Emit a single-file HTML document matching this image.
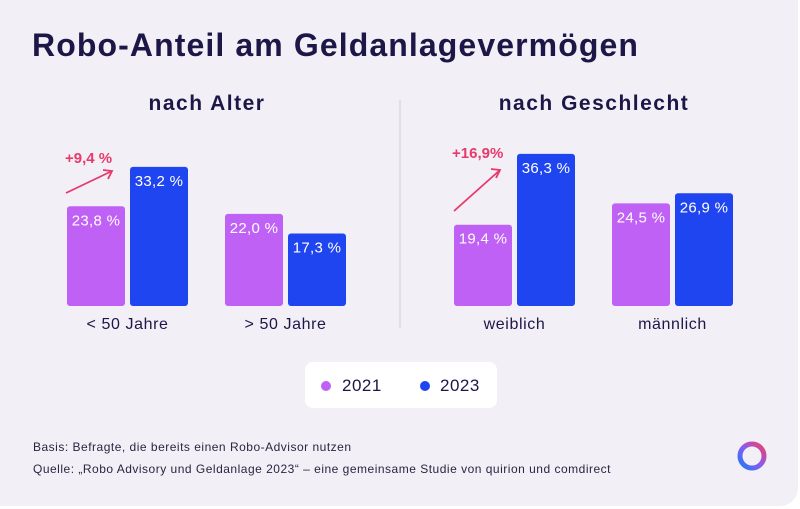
<!DOCTYPE html>
<html><head><meta charset="utf-8"><style>
body{margin:0;background:#fff;font-family:"Liberation Sans",sans-serif}
#card{position:absolute;left:0;top:0;width:798px;height:506px;background:#f2f0f6;border-radius:0 0 18px 0;overflow:hidden}
.t{position:absolute;white-space:nowrap}
</style></head><body>
<div id="card">
<div class="t" style="left:32px;top:27px;font-size:32px;letter-spacing:1.1px;font-weight:bold;color:#1c1747">Robo-Anteil am Geldanlagevermögen</div>
<svg id="c" width="800" height="509" style="position:absolute;left:0;top:0"></svg>
<div style="position:absolute;left:305px;top:362px;width:192px;height:46px;background:#fff;border-radius:8px">
<span style="position:absolute;left:16px;top:19px;width:10px;height:10px;border-radius:50%;background:#c061f5"></span>
<span class="t" style="left:37px;top:14px;font-size:17px;letter-spacing:0.5px;color:#1c1747">2021</span>
<span style="position:absolute;left:115px;top:19px;width:10px;height:10px;border-radius:50%;background:#1f45f0"></span>
<span class="t" style="left:135px;top:14px;font-size:17px;letter-spacing:0.5px;color:#1c1747">2023</span>
</div>
<div class="t" style="left:33px;top:440px;font-size:12px;letter-spacing:0.5px;color:#2a2540">Basis: Befragte, die bereits einen Robo-Advisor nutzen</div>
<div class="t" style="left:33px;top:462px;font-size:12px;letter-spacing:0.5px;color:#2a2540">Quelle: „Robo Advisory und Geldanlage 2023“ – eine gemeinsame Studie von quirion und comdirect</div>
<svg width="40" height="40" style="position:absolute;left:736px;top:438px">
<defs><linearGradient id="lg" x1="0" y1="1" x2="1" y2="0"><stop offset="0" stop-color="#1f7bf0"/><stop offset=".5" stop-color="#8a5cf0"/><stop offset="1" stop-color="#f0406a"/></linearGradient></defs>
<circle cx="16" cy="18" r="12" fill="none" stroke="url(#lg)" stroke-width="5"/></svg>
</div>
<script>
const categories=["< 50 Jahre","> 50 Jahre","weiblich","männlich"];
const v2021=[23.8,22.0,19.4,24.5];
const v2023=[33.2,17.3,36.3,26.9];
const labels2021=["23,8 %","22,0 %","19,4 %","24,5 %"];
const labels2023=["33,2 %","17,3 %","36,3 %","26,9 %"];
const sections=["nach Alter","nach Geschlecht"];
const deltas=["+9,4 %","+16,9%"];
const svg=document.getElementById('c');const NS="http://www.w3.org/2000/svg";
const base=306,k=4.19;const y=v=>base-v*k;
const gx=[67,225,454,612];const bw=58,gap=5;
function mk(t,a){const e=document.createElementNS(NS,t);for(const q in a)e.setAttribute(q,a[q]);svg.appendChild(e);return e;}
categories.forEach((c,i)=>{
 const x1=gx[i],x2=gx[i]+bw+gap;
 let r=mk('rect',{x:x1,y:y(v2021[i]),width:bw,height:v2021[i]*k,rx:3,fill:'#c061f5'});
 
 
 r=mk('rect',{x:x2,y:y(v2023[i]),width:bw,height:v2023[i]*k,rx:3,fill:'#1f45f0'});
 
 
 let t=mk('text',{x:x1+bw/2,y:y(v2021[i])+19,'text-anchor':'middle','font-size':15,'letter-spacing':0.3,fill:'#fff','font-family':'Liberation Sans'});t.textContent=labels2021[i];
 
 
 t=mk('text',{x:x2+bw/2,y:y(v2023[i])+19,'text-anchor':'middle','font-size':15,'letter-spacing':0.3,fill:'#fff','font-family':'Liberation Sans'});t.textContent=labels2023[i];
 
 
 t=mk('text',{x:x1+bw+gap/2,y:329,'text-anchor':'middle','font-size':16,'letter-spacing':0.6,fill:'#1c1747','font-family':'Liberation Sans'});t.textContent=c;
 
 
});
[207,594].forEach((cx,i)=>{const t=mk('text',{x:cx,y:110,'text-anchor':'middle','font-size':21,'letter-spacing':1.5,'font-weight':'bold',fill:'#1c1747','font-family':'Liberation Sans'});t.textContent=sections[i];
 
 });
const dv=mk('line',{x1:400,y1:100,x2:400,y2:328,stroke:'#cfcbd8','stroke-width':1});


[[0,66,193,112,171,65,163],[2,454,211,500,170,452,158]].forEach(([i,x1,y1,x2,y2,tx,ty],j)=>{
 const g=mk('g',{stroke:'#e8396b','stroke-width':1.8,fill:'none'});
 
 
 const l=document.createElementNS(NS,'path');l.setAttribute('d',`M${x1} ${y1}L${x2} ${y2}M${x2-9} ${y2-1}L${x2} ${y2}L${x2-4} ${y2+8}`);g.appendChild(l);
 const t=mk('text',{x:tx,y:ty,'font-size':15,'font-weight':'bold',fill:'#e8396b','font-family':'Liberation Sans'});t.textContent=deltas[j];
 
 
});
</script>
</body></html>
